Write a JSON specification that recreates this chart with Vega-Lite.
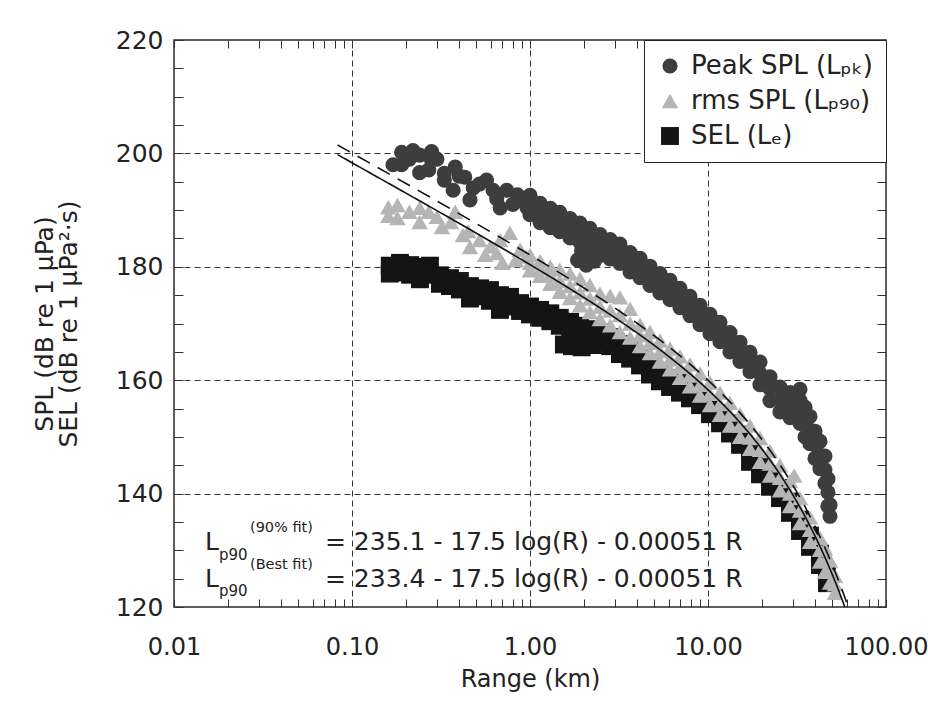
{
  "$schema": "https://vega.github.io/schema/vega-lite/v6.json",
  "width": 712,
  "height": 567,
  "autosize": {"type": "none"},
  "padding": {"left": 174, "top": 40, "right": 42, "bottom": 100},
  "background": "white",
  "config": {
    "font": "DejaVu Sans",
    "view": {"stroke": "#2a2a2a", "strokeWidth": 1.5},
    "axis": {"labelFont": "DejaVu Sans", "titleFont": "DejaVu Sans", "labelColor": "#222", "titleColor": "#222", "tickColor": "#333", "domain": false, "titleFontWeight": "normal"},
    "legend": {"orient": "top-right", "offset": 0, "padding": 13, "strokeColor": "#222", "fillColor": "white", "labelFontSize": 26, "labelFont": "DejaVu Sans", "labelColor": "#222", "symbolSize": 400, "rowPadding": 9, "labelOffset": 8, "symbolStrokeWidth": 0, "labelLimit": 300}
  },
  "datasets": {
    "pts": [
      {"s":"sel","r":0.163,"db":180.2},{"s":"sel","r":0.163,"db":178.8},{"s":"sel","r":0.186,"db":180.7},{"s":"sel","r":0.186,"db":179.0},{"s":"sel","r":0.212,"db":180.3},{"s":"sel","r":0.212,"db":178.6},{"s":"sel","r":0.241,"db":180.0},{"s":"sel","r":0.241,"db":177.8},{"s":"sel","r":0.274,"db":180.2},{"s":"sel","r":0.274,"db":178.6},{"s":"sel","r":0.312,"db":178.5},{"s":"sel","r":0.312,"db":177.0},{"s":"sel","r":0.355,"db":178.0},{"s":"sel","r":0.355,"db":176.6},{"s":"sel","r":0.404,"db":177.5},{"s":"sel","r":0.404,"db":176.0},{"s":"sel","r":0.46,"db":176.6},{"s":"sel","r":0.46,"db":174.4},{"s":"sel","r":0.524,"db":176.2},{"s":"sel","r":0.524,"db":174.8},{"s":"sel","r":0.596,"db":175.9},{"s":"sel","r":0.596,"db":174.0},{"s":"sel","r":0.678,"db":175.0},{"s":"sel","r":0.678,"db":172.4},{"s":"sel","r":0.772,"db":174.7},{"s":"sel","r":0.772,"db":173.0},{"s":"sel","r":0.879,"db":173.6},{"s":"sel","r":0.879,"db":172.2},{"s":"sel","r":1.0,"db":173.0},{"s":"sel","r":1.0,"db":171.6},{"s":"sel","r":1.14,"db":172.4},{"s":"sel","r":1.14,"db":171.0},{"s":"sel","r":1.3,"db":171.8},{"s":"sel","r":1.3,"db":170.4},{"s":"sel","r":1.47,"db":171.0},{"s":"sel","r":1.47,"db":169.6},{"s":"sel","r":1.55,"db":166.3},{"s":"sel","r":1.68,"db":170.3},{"s":"sel","r":1.68,"db":168.8},{"s":"sel","r":1.72,"db":166.0},{"s":"sel","r":1.8,"db":167.4},{"s":"sel","r":1.91,"db":169.6},{"s":"sel","r":1.91,"db":168.0},{"s":"sel","r":1.95,"db":165.8},{"s":"sel","r":2.05,"db":167.0},{"s":"sel","r":2.17,"db":169.0},{"s":"sel","r":2.17,"db":167.4},{"s":"sel","r":2.25,"db":166.2},{"s":"sel","r":2.47,"db":168.4},{"s":"sel","r":2.47,"db":166.8},{"s":"sel","r":2.82,"db":167.6},{"s":"sel","r":2.82,"db":166.0},{"s":"sel","r":3.2,"db":166.4},{"s":"sel","r":3.2,"db":164.6},{"s":"sel","r":3.65,"db":165.5},{"s":"sel","r":3.65,"db":163.8},{"s":"sel","r":4.15,"db":164.0},{"s":"sel","r":4.15,"db":162.6},{"s":"sel","r":4.72,"db":162.8},{"s":"sel","r":4.72,"db":161.0},{"s":"sel","r":5.37,"db":161.4},{"s":"sel","r":5.37,"db":159.8},{"s":"sel","r":6.12,"db":160.4},{"s":"sel","r":6.12,"db":158.8},{"s":"sel","r":6.96,"db":159.6},{"s":"sel","r":6.96,"db":157.8},{"s":"sel","r":7.92,"db":158.6},{"s":"sel","r":7.92,"db":156.8},{"s":"sel","r":9.02,"db":157.2},{"s":"sel","r":9.02,"db":155.6},{"s":"sel","r":10.26,"db":155.8},{"s":"sel","r":10.26,"db":154.0},{"s":"sel","r":11.68,"db":154.2},{"s":"sel","r":11.68,"db":152.4},{"s":"sel","r":13.29,"db":152.4},{"s":"sel","r":13.29,"db":150.6},{"s":"sel","r":15.13,"db":150.4},{"s":"sel","r":15.13,"db":148.6},{"s":"sel","r":17.22,"db":147.8},{"s":"sel","r":17.22,"db":145.6},{"s":"sel","r":19.59,"db":145.6},{"s":"sel","r":19.59,"db":143.4},{"s":"sel","r":22.3,"db":143.4},{"s":"sel","r":22.3,"db":141.2},{"s":"sel","r":25.38,"db":141.0},{"s":"sel","r":25.38,"db":139.2},{"s":"sel","r":28.88,"db":138.6},{"s":"sel","r":28.88,"db":136.6},{"s":"sel","r":32.87,"db":135.4},{"s":"sel","r":32.87,"db":133.4},{"s":"sel","r":37.41,"db":132.6},{"s":"sel","r":37.41,"db":130.6},{"s":"sel","r":42.58,"db":129.4},{"s":"sel","r":42.58,"db":127.4},{"s":"sel","r":46.6,"db":126.0},{"s":"sel","r":46.6,"db":124.2},
      {"s":"rms","r":0.16,"db":190.5},{"s":"rms","r":0.18,"db":190.9},{"s":"rms","r":0.18,"db":188.6},{"s":"rms","r":0.24,"db":187.9},{"s":"rms","r":0.24,"db":190.4},{"s":"rms","r":0.27,"db":189.7},{"s":"rms","r":0.32,"db":187.0},{"s":"rms","r":0.38,"db":189.7},{"s":"rms","r":0.42,"db":185.6},{"s":"rms","r":0.46,"db":183.5},{"s":"rms","r":0.52,"db":184.7},{"s":"rms","r":0.65,"db":182.4},{"s":"rms","r":0.77,"db":186.0},{"s":"rms","r":0.7,"db":180.7},{"s":"rms","r":0.88,"db":183.0},{"s":"rms","r":0.21,"db":189.7},{"s":"rms","r":0.16,"db":189.0},{"s":"rms","r":0.36,"db":187.9},{"s":"rms","r":0.56,"db":182.1},{"s":"rms","r":0.83,"db":181.2},{"s":"rms","r":0.68,"db":184.7},{"s":"rms","r":0.3,"db":188.8},{"s":"rms","r":0.45,"db":186.3},{"s":"rms","r":0.6,"db":183.6},{"s":"rms","r":0.95,"db":181.8},
      {"s":"rms","r":1.0,"db":182.1},{"s":"rms","r":1.0,"db":180.7},{"s":"rms","r":1.0,"db":179.4},{"s":"rms","r":1.14,"db":181.0},{"s":"rms","r":1.14,"db":179.7},{"s":"rms","r":1.14,"db":178.4},{"s":"rms","r":1.3,"db":180.0},{"s":"rms","r":1.3,"db":178.5},{"s":"rms","r":1.3,"db":177.0},{"s":"rms","r":1.47,"db":179.5},{"s":"rms","r":1.47,"db":177.5},{"s":"rms","r":1.47,"db":175.6},{"s":"rms","r":1.68,"db":178.8},{"s":"rms","r":1.68,"db":176.6},{"s":"rms","r":1.68,"db":174.5},{"s":"rms","r":1.91,"db":177.9},{"s":"rms","r":1.91,"db":175.5},{"s":"rms","r":1.91,"db":173.2},{"s":"rms","r":2.17,"db":176.8},{"s":"rms","r":2.17,"db":174.4},{"s":"rms","r":2.17,"db":172.0},{"s":"rms","r":2.47,"db":175.3},{"s":"rms","r":2.47,"db":173.0},{"s":"rms","r":2.47,"db":170.8},{"s":"rms","r":2.82,"db":174.9},{"s":"rms","r":2.82,"db":172.3},{"s":"rms","r":2.82,"db":169.7},{"s":"rms","r":3.2,"db":174.6},{"s":"rms","r":3.2,"db":171.5},{"s":"rms","r":3.2,"db":168.5},{"s":"rms","r":3.65,"db":172.6},{"s":"rms","r":3.65,"db":170.0},{"s":"rms","r":3.65,"db":167.5},{"s":"rms","r":4.15,"db":169.8},{"s":"rms","r":4.15,"db":167.9},{"s":"rms","r":4.15,"db":166.0},{"s":"rms","r":4.72,"db":168.5},{"s":"rms","r":4.72,"db":166.6},{"s":"rms","r":4.72,"db":164.8},{"s":"rms","r":5.37,"db":167.0},{"s":"rms","r":5.37,"db":165.1},{"s":"rms","r":5.37,"db":163.3},{"s":"rms","r":6.12,"db":165.6},{"s":"rms","r":6.12,"db":163.7},{"s":"rms","r":6.12,"db":161.9},{"s":"rms","r":6.96,"db":164.2},{"s":"rms","r":6.96,"db":162.3},{"s":"rms","r":6.96,"db":160.4},{"s":"rms","r":7.92,"db":162.8},{"s":"rms","r":7.92,"db":160.8},{"s":"rms","r":7.92,"db":158.9},{"s":"rms","r":9.02,"db":161.2},{"s":"rms","r":9.02,"db":159.2},{"s":"rms","r":9.02,"db":157.3},{"s":"rms","r":10.26,"db":159.6},{"s":"rms","r":10.26,"db":157.6},{"s":"rms","r":10.26,"db":155.6},{"s":"rms","r":11.68,"db":157.8},{"s":"rms","r":11.68,"db":155.8},{"s":"rms","r":11.68,"db":153.9},{"s":"rms","r":13.29,"db":156.0},{"s":"rms","r":13.29,"db":154.0},{"s":"rms","r":13.29,"db":152.0},{"s":"rms","r":15.13,"db":154.0},{"s":"rms","r":15.13,"db":152.0},{"s":"rms","r":15.13,"db":150.0},{"s":"rms","r":17.22,"db":152.0},{"s":"rms","r":17.22,"db":149.9},{"s":"rms","r":17.22,"db":147.9},{"s":"rms","r":19.59,"db":149.8},{"s":"rms","r":19.59,"db":147.7},{"s":"rms","r":19.59,"db":145.6},{"s":"rms","r":22.3,"db":147.5},{"s":"rms","r":22.3,"db":145.3},{"s":"rms","r":22.3,"db":143.2},{"s":"rms","r":25.38,"db":145.0},{"s":"rms","r":25.38,"db":142.8},{"s":"rms","r":25.38,"db":140.6},{"s":"rms","r":28.88,"db":142.2},{"s":"rms","r":28.88,"db":140.0},{"s":"rms","r":28.88,"db":137.8},{"s":"rms","r":30.5,"db":143.2},{"s":"rms","r":32.87,"db":139.2},{"s":"rms","r":32.87,"db":137.0},{"s":"rms","r":32.87,"db":134.8},{"s":"rms","r":37.41,"db":135.8},{"s":"rms","r":37.41,"db":133.6},{"s":"rms","r":37.41,"db":131.5},{"s":"rms","r":42.58,"db":132.2},{"s":"rms","r":42.58,"db":130.1},{"s":"rms","r":42.58,"db":128.0},{"s":"rms","r":45.4,"db":130.3},{"s":"rms","r":45.4,"db":128.2},{"s":"rms","r":45.4,"db":126.2},{"s":"rms","r":48.46,"db":128.2},{"s":"rms","r":48.46,"db":126.2},{"s":"rms","r":48.46,"db":124.3},{"s":"rms","r":51.7,"db":125.5},{"s":"rms","r":51.7,"db":124.0},{"s":"rms","r":51.7,"db":122.5},
      {"s":"pk","r":0.17,"db":198.0},{"s":"pk","r":0.19,"db":200.2},{"s":"pk","r":0.19,"db":198.0},{"s":"pk","r":0.24,"db":199.7},{"s":"pk","r":0.24,"db":196.6},{"s":"pk","r":0.28,"db":200.3},{"s":"pk","r":0.28,"db":198.8},{"s":"pk","r":0.27,"db":197.1},{"s":"pk","r":0.21,"db":199.0},{"s":"pk","r":0.22,"db":200.5},{"s":"pk","r":0.3,"db":199.0},{"s":"pk","r":0.33,"db":196.5},{"s":"pk","r":0.38,"db":197.6},{"s":"pk","r":0.33,"db":195.3},{"s":"pk","r":0.43,"db":195.8},{"s":"pk","r":0.37,"db":193.5},{"s":"pk","r":0.48,"db":193.9},{"s":"pk","r":0.57,"db":195.3},{"s":"pk","r":0.46,"db":191.8},{"s":"pk","r":0.62,"db":193.5},{"s":"pk","r":0.68,"db":190.4},{"s":"pk","r":0.74,"db":193.5},{"s":"pk","r":0.85,"db":192.7},{"s":"pk","r":0.96,"db":190.5},{"s":"pk","r":0.88,"db":191.8},{"s":"pk","r":0.52,"db":194.6},{"s":"pk","r":0.4,"db":196.0},{"s":"pk","r":0.65,"db":192.0},{"s":"pk","r":0.8,"db":191.0},
      {"s":"pk","r":1.0,"db":192.6},{"s":"pk","r":1.0,"db":190.9},{"s":"pk","r":1.0,"db":189.2},{"s":"pk","r":1.14,"db":191.2},{"s":"pk","r":1.14,"db":189.5},{"s":"pk","r":1.14,"db":187.8},{"s":"pk","r":1.3,"db":190.3},{"s":"pk","r":1.3,"db":188.6},{"s":"pk","r":1.3,"db":186.9},{"s":"pk","r":1.47,"db":189.6},{"s":"pk","r":1.47,"db":187.9},{"s":"pk","r":1.47,"db":186.2},{"s":"pk","r":1.68,"db":188.5},{"s":"pk","r":1.68,"db":186.8},{"s":"pk","r":1.68,"db":185.1},{"s":"pk","r":1.91,"db":187.7},{"s":"pk","r":1.91,"db":186.0},{"s":"pk","r":1.91,"db":184.3},{"s":"pk","r":2.17,"db":186.8},{"s":"pk","r":2.17,"db":185.1},{"s":"pk","r":2.17,"db":183.4},{"s":"pk","r":2.47,"db":185.7},{"s":"pk","r":2.47,"db":184.0},{"s":"pk","r":2.47,"db":182.3},{"s":"pk","r":2.82,"db":184.8},{"s":"pk","r":2.82,"db":183.1},{"s":"pk","r":2.82,"db":181.4},{"s":"pk","r":3.2,"db":184.0},{"s":"pk","r":3.2,"db":182.3},{"s":"pk","r":3.2,"db":180.6},{"s":"pk","r":3.65,"db":182.5},{"s":"pk","r":3.65,"db":180.8},{"s":"pk","r":3.65,"db":179.1},{"s":"pk","r":4.15,"db":181.5},{"s":"pk","r":4.15,"db":179.8},{"s":"pk","r":4.15,"db":178.1},{"s":"pk","r":4.72,"db":180.1},{"s":"pk","r":4.72,"db":178.4},{"s":"pk","r":4.72,"db":176.7},{"s":"pk","r":5.37,"db":178.8},{"s":"pk","r":5.37,"db":177.1},{"s":"pk","r":5.37,"db":175.4},{"s":"pk","r":6.12,"db":177.6},{"s":"pk","r":6.12,"db":175.9},{"s":"pk","r":6.12,"db":174.2},{"s":"pk","r":6.96,"db":176.2},{"s":"pk","r":6.96,"db":174.5},{"s":"pk","r":6.96,"db":172.8},{"s":"pk","r":7.92,"db":174.8},{"s":"pk","r":7.92,"db":173.1},{"s":"pk","r":7.92,"db":171.4},{"s":"pk","r":9.02,"db":173.2},{"s":"pk","r":9.02,"db":171.5},{"s":"pk","r":9.02,"db":169.8},{"s":"pk","r":10.26,"db":171.6},{"s":"pk","r":10.26,"db":169.9},{"s":"pk","r":10.26,"db":168.2},{"s":"pk","r":11.68,"db":170.2},{"s":"pk","r":11.68,"db":168.5},{"s":"pk","r":11.68,"db":166.8},{"s":"pk","r":13.29,"db":168.4},{"s":"pk","r":13.29,"db":166.7},{"s":"pk","r":13.29,"db":165.0},{"s":"pk","r":15.13,"db":166.7},{"s":"pk","r":15.13,"db":165.0},{"s":"pk","r":15.13,"db":163.3},{"s":"pk","r":17.22,"db":164.9},{"s":"pk","r":17.22,"db":163.2},{"s":"pk","r":17.22,"db":161.5},{"s":"pk","r":19.59,"db":163.2},{"s":"pk","r":19.59,"db":161.2},{"s":"pk","r":19.59,"db":159.2},{"s":"pk","r":22.3,"db":160.6},{"s":"pk","r":22.3,"db":158.5},{"s":"pk","r":22.3,"db":156.4},{"s":"pk","r":25.38,"db":158.8},{"s":"pk","r":25.38,"db":156.6},{"s":"pk","r":25.38,"db":154.4},{"s":"pk","r":28.88,"db":157.8},{"s":"pk","r":28.88,"db":155.6},{"s":"pk","r":28.88,"db":153.4},{"s":"pk","r":32.87,"db":158.4},{"s":"pk","r":32.87,"db":156.4},{"s":"pk","r":32.87,"db":154.4},{"s":"pk","r":32.87,"db":152.4},{"s":"pk","r":35.1,"db":155.2},{"s":"pk","r":35.1,"db":152.6},{"s":"pk","r":35.1,"db":150.0},{"s":"pk","r":37.41,"db":153.6},{"s":"pk","r":37.41,"db":151.2},{"s":"pk","r":37.41,"db":148.8},{"s":"pk","r":39.9,"db":151.0},{"s":"pk","r":39.9,"db":148.6},{"s":"pk","r":39.9,"db":146.2},{"s":"pk","r":42.58,"db":149.2},{"s":"pk","r":42.58,"db":146.8},{"s":"pk","r":42.58,"db":144.4},{"s":"pk","r":45.4,"db":146.6},{"s":"pk","r":45.4,"db":144.2},{"s":"pk","r":45.4,"db":141.8},{"s":"pk","r":47.2,"db":142.6},{"s":"pk","r":47.2,"db":140.2},{"s":"pk","r":47.2,"db":137.8},{"s":"pk","r":48.46,"db":138.0},{"s":"pk","r":48.46,"db":136.0},
      {"s":"pk","r":1.85,"db":181.2},{"s":"pk","r":2.07,"db":180.3},{"s":"pk","r":2.17,"db":182.1},{"s":"pk","r":2.47,"db":182.0},{"s":"pk","r":1.95,"db":182.8},{"s":"pk","r":2.3,"db":181.0}
    ],
    "fits": [
      {"fit":"Best fit","r":0.083,"db":199.78},{"fit":"Best fit","r":0.1,"db":198.35},{"fit":"Best fit","r":0.2,"db":193.03},{"fit":"Best fit","r":0.5,"db":185.92},{"fit":"Best fit","r":1,"db":180.39},{"fit":"Best fit","r":2,"db":174.61},{"fit":"Best fit","r":3,"db":171.02},{"fit":"Best fit","r":5,"db":166.12},{"fit":"Best fit","r":7,"db":162.54},{"fit":"Best fit","r":10,"db":158.3},{"fit":"Best fit","r":15,"db":152.67},{"fit":"Best fit","r":20,"db":147.93},{"fit":"Best fit","r":25,"db":143.69},{"fit":"Best fit","r":30,"db":139.75},{"fit":"Best fit","r":35,"db":136.03},{"fit":"Best fit","r":40,"db":132.46},{"fit":"Best fit","r":45,"db":129.02},{"fit":"Best fit","r":50,"db":125.67},{"fit":"Best fit","r":55,"db":122.39},{"fit":"Best fit","r":60,"db":119.18},
      {"fit":"90% fit","r":0.083,"db":201.48},{"fit":"90% fit","r":0.1,"db":200.05},{"fit":"90% fit","r":0.2,"db":194.73},{"fit":"90% fit","r":0.5,"db":187.62},{"fit":"90% fit","r":1,"db":182.09},{"fit":"90% fit","r":2,"db":176.31},{"fit":"90% fit","r":3,"db":172.72},{"fit":"90% fit","r":5,"db":167.82},{"fit":"90% fit","r":7,"db":164.24},{"fit":"90% fit","r":10,"db":160.0},{"fit":"90% fit","r":15,"db":154.37},{"fit":"90% fit","r":20,"db":149.63},{"fit":"90% fit","r":25,"db":145.39},{"fit":"90% fit","r":30,"db":141.45},{"fit":"90% fit","r":35,"db":137.73},{"fit":"90% fit","r":40,"db":134.16},{"fit":"90% fit","r":45,"db":130.72},{"fit":"90% fit","r":50,"db":127.37},{"fit":"90% fit","r":55,"db":124.09},{"fit":"90% fit","r":60,"db":120.88},{"fit":"90% fit","r":63,"db":118.98}
    ]
  },
  "layer": [
    {
      "data": {"name": "pts"},
      "mark": {"type": "point", "filled": true, "opacity": 1, "strokeWidth": 0},
      "encoding": {
        "x": {"field": "r", "type": "quantitative", "scale": {"type": "log", "domain": [0.01, 100], "nice": false},
          "axis": {"orient": "bottom", "tickValues": [0.01,0.02,0.03,0.04,0.05,0.06,0.07,0.08,0.09,0.1,0.2,0.3,0.4,0.5,0.6,0.7,0.8,0.9,1,2,3,4,5,6,7,8,9,10,20,30,40,50,60,70,80,90,100],
            "labelExpr": "indexof([0.01,0.1,1,10,100], datum.value) >= 0 ? format(datum.value, '.2f') : ''",
            "labelOverlap": false, "labelFlush": false, "labelFontSize": 24, "labelPadding": 36, "tickSize": -8, "tickWidth": 1,
            "grid": true, "gridDash": [6, 4], "gridColor": "#333", "gridWidth": 1,
            "gridOpacity": {"condition": {"test": "indexof([0.1,1,10], datum.value) >= 0", "value": 1}, "value": 0},
            "title": "Range (km)", "titleFontSize": 24, "titlePadding": 8}},
        "y": {"field": "db", "type": "quantitative", "scale": {"domain": [120, 220], "nice": false, "zero": false},
          "axis": {"orient": "left", "tickValues": [120,125,130,135,140,145,150,155,160,165,170,175,180,185,190,195,200,205,210,215,220],
            "labelExpr": "datum.value % 20 == 0 ? toString(datum.value) : ''",
            "labelOverlap": false, "labelFlush": false, "labelFontSize": 25, "labelPadding": 20, "tickSize": -9, "tickWidth": 1,
            "grid": true, "gridDash": [6, 4], "gridColor": "#333", "gridWidth": 1,
            "gridOpacity": {"condition": {"test": "indexof([140,160,180,200], datum.value) >= 0", "value": 1}, "value": 0},
            "title": ["SPL (dB re 1 μPa)", "SEL (dB re 1 μPa²·s)"], "titleFontSize": 25, "titleLineHeight": 24, "titlePadding": 34}},
        "color": {"field": "s", "type": "nominal", "scale": {"domain": ["pk", "rms", "sel"], "range": ["#3d3d3d", "#b5b5b5", "#141414"]},
          "legend": {"title": null, "labelExpr": "datum.label == 'pk' ? 'Peak SPL (Lₚₖ)' : datum.label == 'rms' ? 'rms SPL (Lₚ₉₀)' : 'SEL (Lₑ)'"}},
        "shape": {"field": "s", "type": "nominal", "scale": {"domain": ["pk", "rms", "sel"], "range": ["circle", "triangle-up", "square"]},
          "legend": {"title": null, "labelExpr": "datum.label == 'pk' ? 'Peak SPL (Lₚₖ)' : datum.label == 'rms' ? 'rms SPL (Lₚ₉₀)' : 'SEL (Lₑ)'"}},
        "size": {"field": "s", "type": "nominal", "scale": {"domain": ["pk", "rms", "sel"], "range": [230, 320, 170]}, "legend": null}
      }
    },
    {
      "data": {"name": "fits"},
      "mark": {"type": "line", "color": "#111", "strokeWidth": 1.6, "clip": true, "interpolate": "monotone"},
      "encoding": {
        "x": {"field": "r", "type": "quantitative", "scale": {"type": "log", "domain": [0.01, 100], "nice": false},
          "axis": {"orient": "top", "labels": false, "grid": false, "title": null, "tickSize": -8, "tickWidth": 1,
            "tickValues": [0.01,0.02,0.03,0.04,0.05,0.06,0.07,0.08,0.09,0.1,0.2,0.3,0.4,0.5,0.6,0.7,0.8,0.9,1,2,3,4,5,6,7,8,9,10,20,30,40,50,60,70,80,90,100]}},
        "y": {"field": "db", "type": "quantitative", "scale": {"domain": [120, 220], "nice": false, "zero": false},
          "axis": {"orient": "right", "labels": false, "grid": false, "title": null, "tickSize": -9, "tickWidth": 1,
            "tickValues": [120,125,130,135,140,145,150,155,160,165,170,175,180,185,190,195,200,205,210,215,220]}},
        "strokeDash": {"field": "fit", "type": "nominal", "scale": {"domain": ["90% fit", "Best fit"], "range": [[14, 9], [1, 0]]}, "legend": null}
      }
    },
    {"data": {"values": [{}]}, "mark": {"type": "text", "text": "L", "fontSize": 25, "align": "left", "baseline": "alphabetic", "color": "#222"},
      "encoding": {"x": {"datum": 0.01493, "type": "quantitative", "axis": null}, "y": {"datum": 130.05, "type": "quantitative", "axis": null}}},
    {"data": {"values": [{}]}, "mark": {"type": "text", "text": "p90", "fontSize": 15, "align": "left", "baseline": "alphabetic", "color": "#222"},
      "encoding": {"x": {"datum": 0.01791, "type": "quantitative", "axis": null}, "y": {"datum": 128.3, "type": "quantitative", "axis": null}}},
    {"data": {"values": [{}]}, "mark": {"type": "text", "text": "(90% fit)", "fontSize": 14.5, "align": "left", "baseline": "alphabetic", "color": "#222"},
      "encoding": {"x": {"datum": 0.02672, "type": "quantitative", "axis": null}, "y": {"datum": 133.2, "type": "quantitative", "axis": null}}},
    {"data": {"values": [{}]}, "mark": {"type": "text", "text": "= 235.1 - 17.5 log(R) - 0.00051 R", "fontSize": 25, "align": "left", "baseline": "alphabetic", "color": "#222"},
      "encoding": {"x": {"datum": 0.0705, "type": "quantitative", "axis": null}, "y": {"datum": 130.05, "type": "quantitative", "axis": null}}},
    {"data": {"values": [{}]}, "mark": {"type": "text", "text": "L", "fontSize": 25, "align": "left", "baseline": "alphabetic", "color": "#222"},
      "encoding": {"x": {"datum": 0.01493, "type": "quantitative", "axis": null}, "y": {"datum": 123.53, "type": "quantitative", "axis": null}}},
    {"data": {"values": [{}]}, "mark": {"type": "text", "text": "p90", "fontSize": 15, "align": "left", "baseline": "alphabetic", "color": "#222"},
      "encoding": {"x": {"datum": 0.01791, "type": "quantitative", "axis": null}, "y": {"datum": 122.0, "type": "quantitative", "axis": null}}},
    {"data": {"values": [{}]}, "mark": {"type": "text", "text": "(Best fit)", "fontSize": 14.5, "align": "left", "baseline": "alphabetic", "color": "#222"},
      "encoding": {"x": {"datum": 0.02672, "type": "quantitative", "axis": null}, "y": {"datum": 126.7, "type": "quantitative", "axis": null}}},
    {"data": {"values": [{}]}, "mark": {"type": "text", "text": "= 233.4 - 17.5 log(R) - 0.00051 R", "fontSize": 25, "align": "left", "baseline": "alphabetic", "color": "#222"},
      "encoding": {"x": {"datum": 0.0705, "type": "quantitative", "axis": null}, "y": {"datum": 123.53, "type": "quantitative", "axis": null}}}
  ],
  "resolve": {"axis": {"x": "independent", "y": "independent"}}
}
